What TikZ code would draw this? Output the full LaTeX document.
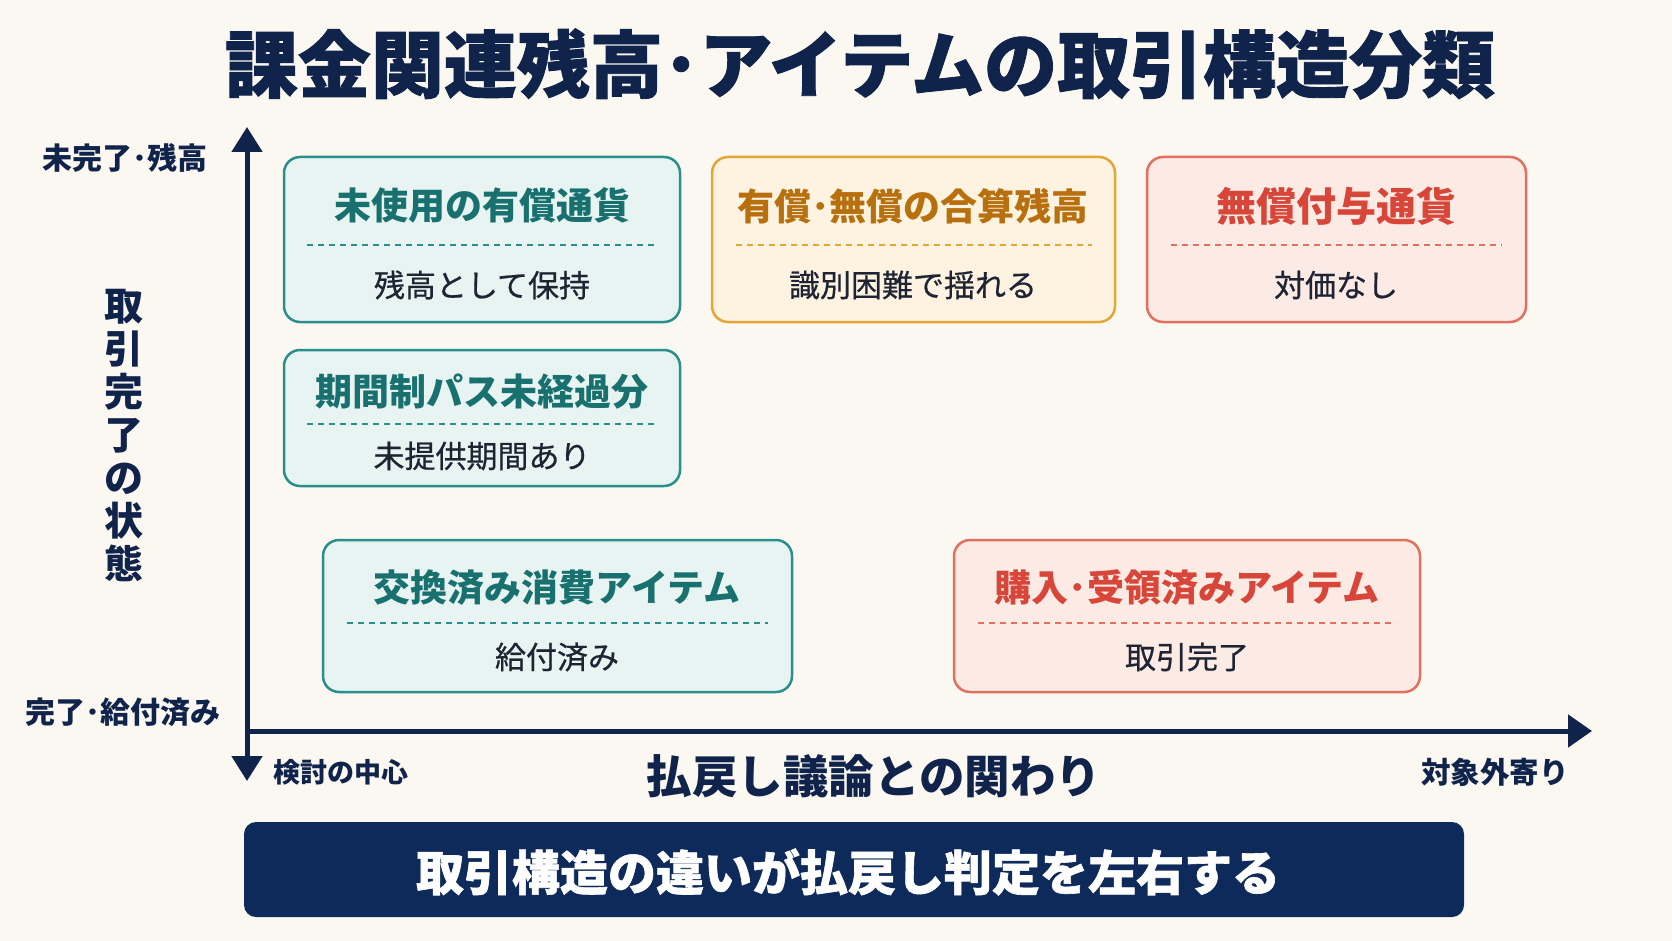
\documentclass[tikz,border=0pt]{standalone}
\usepackage{fontspec}
\setmainfont{Noto Sans CJK JP}
\newfontfamily\jpf{Noto Sans CJK JP}
\newfontfamily\jpm[FakeBold=0.6]{Noto Sans CJK JP}
\newfontfamily\jph[BoldFeatures={FakeBold=1.2}]{Noto Sans CJK JP}
\usetikzlibrary{arrows.meta,calc}
\definecolor{bgc}{HTML}{FBF8F1}
\definecolor{navy}{HTML}{0E2A5A}
\definecolor{axisc}{HTML}{10234B}
\definecolor{inkc}{HTML}{1E2433}
\definecolor{tealB}{HTML}{2A8F8C}
\definecolor{tealF}{HTML}{E7F4F1}
\definecolor{tealT}{HTML}{19716F}
\definecolor{oraB}{HTML}{E5A634}
\definecolor{oraF}{HTML}{FDF3E0}
\definecolor{oraT}{HTML}{B8700F}
\definecolor{redB}{HTML}{E2705F}
\definecolor{redF}{HTML}{FCEBE5}
\definecolor{redT}{HTML}{D8463A}
\tikzset{
  qbox/.style={draw=#1B, fill=#1F, line width=2.5pt, rounded corners=16pt, inner sep=0pt},
  qtitle/.style={text=#1T, font=\jpf\bfseries\fontsize{37}{40}\selectfont, inner sep=0pt, anchor=center},
  qsub/.style={text=inkc, font=\jpm\fontsize{31}{35}\selectfont, inner sep=0pt, anchor=center},
  qdash/.style={draw=#1B, line width=2pt, dash pattern=on 6pt off 5pt},
  axisline/.style={draw=axisc, line width=5pt},
  axlab/.style={text=axisc, font=\jpf\bfseries\fontsize{30}{34}\selectfont, inner sep=0pt},
}
\begin{document}
\begin{tikzpicture}[x=1pt,y=-1pt]
\useasboundingbox (0,0) rectangle (1672,941);
\fill[bgc] (0,0) rectangle (1672,941);

% title
\node[text=axisc, font=\jph\bfseries\fontsize{73}{80}\selectfont, inner sep=0pt] (title) at (860,64) {課金関連残高･アイテムの取引構造分類};

% axes
\coordinate (vb) at (247,781);
\coordinate (vt) at (247,127);
\coordinate (o) at (245,731);
\coordinate (ht) at (1592,731);
\draw[axisline, {Triangle[length=25pt,width=30pt]}-{Triangle[length=25pt,width=30pt]}] (vb) -- (vt);
\draw[axisline, -{Triangle[length=24pt,width=32pt]}] (o) -- (ht);

\node[axlab] (ytop) at (125,158) {未完了･残高};
\node[axlab] (ybot) at (123,712) {完了･給付済み};
\node[axlab, align=center, font=\jpf\bfseries\fontsize{39}{43}\selectfont] (ylab) at (124,436) {取\\引\\完\\了\\の\\状\\態};
\node[axlab, font=\jpf\bfseries\fontsize{27}{30}\selectfont] (xl) at (341,772) {検討の中心};
\node[axlab, font=\jpf\bfseries\fontsize{29.5}{32}\selectfont] (xr) at (1495,772) {対象外寄り};
\node[axlab, font=\jpf\bfseries\fontsize{45.5}{48}\selectfont] (xlab) at (874,776) {払戻し議論との関わり};

% box 1
\path[qbox=teal] (284,157) rectangle (680,322);
\node[qtitle=teal] (t1) at (482,205) {未使用の有償通貨};
\draw[qdash=teal] (307,245) -- (657,245);
\node[qsub] (s1) at (482,285) {残高として保持};

% box 2
\path[qbox=ora] (712,157) rectangle (1115,322);
\node[qtitle=ora] (t2) at (913,206) {有償･無償の合算残高};
\draw[qdash=ora] (736,245) -- (1092,245);
\node[qsub] (s2) at (913,285) {識別困難で揺れる};

% box 3
\path[qbox=red] (1147,157) rectangle (1526,322);
\node[qtitle=red, font=\jpf\bfseries\fontsize{40}{44}\selectfont] (t3) at (1336,206) {無償付与通貨};
\draw[qdash=red] (1171,245) -- (1502,245);
\node[qsub] (s3) at (1336,285) {対価なし};

% box 4
\path[qbox=teal] (284,350) rectangle (680,486);
\node[qtitle=teal] (t4) at (482,392) {期間制パス未経過分};
\draw[qdash=teal] (307,424) -- (657,424);
\node[qsub] (s4) at (482,456) {未提供期間あり};

% box 5
\path[qbox=teal] (323,540) rectangle (792,692);
\node[qtitle=teal] (t5) at (557,588) {交換済み消費アイテム};
\draw[qdash=teal] (347,623) -- (768,623);
\node[qsub] (s5) at (557,657) {給付済み};

% box 6
\path[qbox=red] (954,540) rectangle (1420,692);
\node[qtitle=red] (t6) at (1187,588) {購入･受領済みアイテム};
\draw[qdash=red] (978,623) -- (1396,623);
\node[qsub] (s6) at (1187,657) {取引完了};

% banner
\path[fill=navy, rounded corners=12pt] (244,822) rectangle (1464,917);
\node[text=white, font=\jph\bfseries\fontsize{48}{52}\selectfont, inner sep=0pt] (ban) at (848,872) {取引構造の違いが払戻し判定を左右する};
\end{tikzpicture}
\end{document}
